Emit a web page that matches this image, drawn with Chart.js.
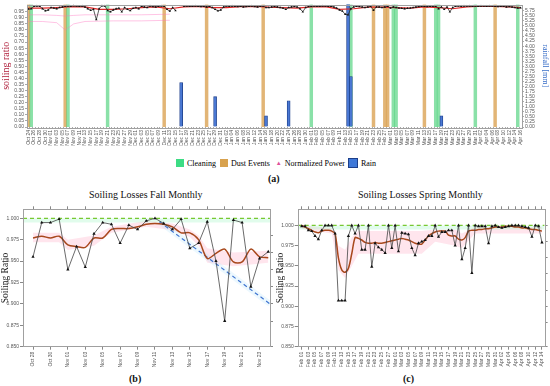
<!DOCTYPE html>
<html>
<head>
<meta charset="utf-8">
<script src="https://cdn.jsdelivr.net/npm/chart.js@4.4.1/dist/chart.umd.min.js"></script>
<style>
  body { margin: 0; background: #fff; width: 550px; height: 386px; overflow: hidden; position: relative; font-family: "Liberation Serif", serif; }
  canvas { position: absolute; }
  .t { position: absolute; white-space: nowrap; color: #111; }
  .leg { position: absolute; left: 176px; top: 158px; display: flex; align-items: center; font-size: 8px; }
  .sq { display: inline-block; width: 8px; height: 8px; margin-right: 3px; }
</style>
</head>
<body>
<canvas id="ca" style="left:0;top:0;width:550px;height:150px" width="550" height="150"></canvas>
<div class="leg">
  <span class="sq" style="background:#3ddc84"></span><span style="margin-right:4px">Cleaning</span>
  <span class="sq" style="background:#d8a24e"></span><span style="margin-right:6px">Dust Events</span>
  <span style="color:#e0509a;font-size:6px;margin-right:3px">▲</span><span style="margin-right:3px">Normalized Power</span>
  <span class="sq" style="background:#3f78d8;border:1px solid #1d3f8a;width:8px;height:8px"></span><span>Rain</span>
</div>
<div class="t" style="left:268px;top:173px;font-size:10px;font-weight:bold">(a)</div>
<div class="t" style="left:89px;top:189px;font-size:10px">Soiling Losses Fall Monthly</div>
<div class="t" style="left:358px;top:189px;font-size:10px">Soiling Losses Spring Monthly</div>
<canvas id="cb" style="left:0;top:203px;width:275px;height:167px" width="275" height="167"></canvas>
<canvas id="cc" style="left:275px;top:203px;width:275px;height:167px" width="275" height="167"></canvas>
<div class="t" style="left:129px;top:373px;font-size:10px;font-weight:bold">(b)</div>
<div class="t" style="left:403px;top:373px;font-size:10px;font-weight:bold">(c)</div>

<script>
// ---------- panel (a): whole season, one value per day from Oct 24 ----------
const months = ['Jan','Feb','Mar','Apr','May','Jun','Jul','Aug','Sep','Oct','Nov','Dec'];
const seasonStart = Date.UTC(2020, 9, 24);
const seasonDays = 175;

const soilDaily = [
  0.972,0.975,0.995,0.998,0.996,0.975,0.958,0.965,0.985,0.980,
  0.975,0.985,0.990,0.995,0.998,0.996,1.000,0.997,0.995,0.998,
  0.990,0.975,0.962,0.970,0.885,0.975,1.000,0.998,0.960,0.950,
  0.965,0.975,0.980,0.950,0.985,0.970,0.960,0.978,0.985,0.975,
  0.995,0.990,0.985,0.998,0.993,0.990,0.995,0.998,0.995,0.970,
  0.955,0.985,0.960,null,null,0.995,0.997,0.995,0.996,0.998,
  0.995,0.993,0.996,0.990,0.995,0.985,0.970,0.958,0.965,0.990,
  0.997,0.995,0.998,0.996,0.993,0.995,0.990,0.993,0.996,0.998,
  0.994,0.990,0.995,0.997,0.985,0.985,0.990,0.993,0.990,0.985,
  0.980,0.970,0.985,0.990,0.993,0.990,0.975,0.950,0.985,0.993,
  0.996,0.997,0.995,0.996,0.998,0.997,0.995,0.996,0.990,0.980,
  0.965,0.955,0.930,0.925,0.975,0.990,0.995,0.993,0.990,0.985,
  0.990,0.995,0.962,0.990,0.990,0.985,0.990,0.995,0.980,0.990,
  0.985,0.980,0.978,0.975,0.978,0.980,0.985,0.990,0.993,0.995,
  0.995,0.993,0.996,0.995,0.995,0.975,0.990,0.970,0.990,0.950,
  0.985,0.995,0.997,0.996,0.998,0.997,0.998,0.996,0.997,0.995,
  0.998,0.997,0.996,0.998,0.997,0.995,0.993,0.996,0.995,0.990,
  0.993,0.990,0.985,0.980,0.982
];

const smoothDays = [0,5,10,15,20,25,30,35,40,45,50,55,60,65,70,75,80,85,90,95,100,105,110,115,120,125,130,135,140,145,150,155,160,165,170,174];
const smoothVals = [0.980,0.980,0.985,0.992,0.990,0.970,0.970,0.975,0.985,0.990,0.975,0.990,0.994,0.985,0.985,0.993,0.994,0.988,0.985,0.980,0.990,0.993,0.970,0.975,0.988,0.988,0.985,0.980,0.990,0.985,0.975,0.990,0.996,0.995,0.990,0.985];

const normDays = [0,5,10,13,16,20,30,40,50];
const normUpper = [0.925,0.925,0.920,0.915,0.920,0.925,0.925,0.925,0.930];
const normLower = [0.870,0.870,0.860,0.800,0.850,0.870,0.875,0.875,0.880];

const cleaningDays = [1,14,28,100,114,129,130,144,145,158,173];
const dustDays = [0,13,48,63,83,122,126,127,140,165];
const rainDays = [54,66,84,92,113,114,146];
const rainMm = [2.2,1.5,0.55,1.3,6.2,2.5,0.55];

// ---------- panel (b): fall month ----------
const fallLabels = ['Oct 28','Oct 30','Nov 01','Nov 03','Nov 05','Nov 07','Nov 09','Nov 11','Nov 13','Nov 15','Nov 17','Nov 19','Nov 21','Nov 23'];
const fallRatio = [0.955,0.995,0.995,0.999,0.940,0.967,0.943,0.982,0.995,0.993,0.971,0.992,0.987,0.997,
                   1.000,0.994,0.987,0.999,0.965,0.971,0.996,0.950,0.880,0.998,0.995,0.920,0.953,0.961];
const fallSmooth = [0.977,0.979,0.977,0.979,0.969,0.967,0.966,0.977,0.977,0.987,0.988,0.988,0.990,0.993,
                    0.994,0.993,0.990,0.983,0.983,0.975,0.953,0.959,0.964,0.949,0.949,0.964,0.955,0.954];
const fallBandX = [0,3,4,7,9,13,16,18,19,20,23,27];
const fallBandHi = [0.983,0.983,0.975,0.980,0.990,0.997,0.994,0.987,0.980,0.965,0.960,0.962];
const fallBandLo = [0.972,0.972,0.963,0.968,0.983,0.990,0.986,0.978,0.968,0.948,0.944,0.948];
const fallTrendX = [14.5,27.2];
const fallTrendY = [0.996,0.900];

// ---------- panel (c): spring month ----------
const springLabels = ['Feb 01','Feb 03','Feb 05','Feb 07','Feb 09','Feb 11','Feb 13','Feb 15','Feb 17','Feb 19','Feb 21','Feb 23','Feb 25','Feb 27',
  'Mar 01','Mar 03','Mar 05','Mar 07','Mar 09','Mar 11','Mar 13','Mar 15','Mar 17','Mar 19','Mar 21','Mar 23','Mar 25','Mar 27','Mar 29','Mar 31',
  'Apr 02','Apr 04','Apr 06','Apr 08','Apr 10','Apr 12','Apr 14'];
const springRatio = [
  0.999,0.999,0.994,0.993,0.987,0.983,0.994,1.000,1.000,1.000,
  0.990,0.907,0.907,0.907,0.987,1.000,0.990,1.000,0.970,0.970,
  1.000,0.949,0.978,0.973,0.970,0.966,1.000,0.972,1.000,0.968,
  0.991,0.990,0.989,0.972,0.963,0.978,0.980,0.982,0.987,0.987,
  1.000,0.986,0.992,0.992,0.994,0.994,0.975,1.000,0.958,0.972,
  1.000,0.941,1.000,0.999,0.999,0.999,0.978,0.999,1.000,0.998,
  0.997,0.998,0.999,1.000,1.000,1.000,0.999,0.998,0.997,0.986,
  1.000,0.999,0.979
];
const springSmooth = [
  1.000,0.998,0.996,0.994,0.992,0.991,0.993,0.994,0.994,0.993,
  0.990,0.960,0.945,0.942,0.947,0.965,0.985,0.984,0.982,0.979,
  0.978,0.978,0.979,0.978,0.978,0.979,0.980,0.981,0.982,0.983,
  0.984,0.983,0.982,0.980,0.978,0.977,0.977,0.982,0.987,0.990,
  0.992,0.993,0.993,0.993,0.988,0.987,0.987,0.983,0.982,0.985,
  0.993,0.994,0.994,0.995,0.995,0.996,0.996,0.997,0.998,0.998,
  0.998,0.999,0.999,0.999,0.998,0.998,0.997,0.997,0.996,0.995,
  0.995,0.994,0.993
];
const springBandX = [0,9,11,13,15,17,30,36,40,46,48,52,72];
const springBandHi = [1.000,0.997,0.975,0.970,0.985,0.993,0.993,0.993,0.995,0.995,0.990,0.998,0.998];
const springBandLo = [0.996,0.990,0.945,0.935,0.950,0.965,0.965,0.965,0.980,0.975,0.972,0.990,0.990];

// ---------- helpers ----------
function dayLabel(d) {
  const dt = new Date(seasonStart + d * 86400000);
  return months[dt.getUTCMonth()] + ' ' + String(dt.getUTCDate()).padStart(2, '0');
}
function fix(size) {
  return function (s) { if (s.isHorizontal()) s.height = size; else s.width = size; };
}
function pts(xs, ys) { return ys.map((y, i) => ({ x: xs ? xs[i] : i, y: y })); }
function sparse(days, vals) {
  const out = new Array(seasonDays).fill(null);
  days.forEach((d, i) => { out[d] = vals[i]; });
  return out;
}
const frame = {
  id: 'frame',
  afterDatasetsDraw(chart) {
    const a = chart.chartArea, c = chart.ctx;
    c.save();
    c.strokeStyle = '#a0a0a0';
    c.lineWidth = 1;
    c.strokeRect(Math.round(a.left) + 0.5, Math.round(a.top) + 0.5, Math.round(a.right - a.left), Math.round(a.bottom - a.top));
    c.restore();
  }
};
const tickFont = { family: 'Liberation Sans', size: 5 };
const tickColor = '#555';

// ---------- chart (a) ----------
const dayLabels = [];
for (let d = 0; d < seasonDays; d++) dayLabels.push(dayLabel(d));
const ones = days => sparse(days, days.map(() => 1));

new Chart(document.getElementById('ca'), {
  type: 'line',
  data: {
    labels: dayLabels,
    datasets: [
      { label: 'soiling ratio', data: soilDaily, borderColor: '#333', borderWidth: 0.8, pointStyle: 'triangle',
        pointRadius: 1.4, pointBackgroundColor: '#111', pointBorderWidth: 0, spanGaps: false, yAxisID: 'y', order: 1 },
      { label: 'smoothed', data: sparse(smoothDays, smoothVals), borderColor: '#e02828', borderWidth: 1.2,
        pointRadius: 0, spanGaps: true, yAxisID: 'y', order: 2 },
      { label: 'Normalized Power', data: sparse(normDays, normUpper), borderColor: 'rgba(255,110,190,0.5)', borderWidth: 0.8,
        pointRadius: 0, spanGaps: true, yAxisID: 'y', order: 3 },
      { label: 'Normalized Power 2', data: sparse(normDays, normLower), borderColor: 'rgba(255,110,190,0.5)', borderWidth: 0.8,
        pointRadius: 0, spanGaps: true, yAxisID: 'y', order: 3 },
      { type: 'bar', label: 'Rain', data: sparse(rainDays, rainMm), backgroundColor: '#4a78d4', borderColor: '#1d3f8a',
        borderWidth: 0.8, barThickness: 3, grouped: false, yAxisID: 'yr', order: 4 },
      { type: 'bar', label: 'Cleaning', data: ones(cleaningDays), backgroundColor: 'rgba(60,205,110,0.6)',
        barPercentage: 1, categoryPercentage: 1, grouped: false, yAxisID: 'yb', order: 5 },
      { type: 'bar', label: 'Dust Events', data: ones(dustDays), backgroundColor: 'rgba(214,150,60,0.7)',
        barPercentage: 1, categoryPercentage: 1, grouped: false, yAxisID: 'yb', order: 6 }
    ]
  },
  options: {
    responsive: false, animation: false, devicePixelRatio: 1,
    layout: { padding: { top: 4.5 } },
    plugins: { legend: { display: false }, tooltip: { enabled: false } },
    scales: {
      x: {
        type: 'category', offset: true, afterFit: fix(23),
        grid: { drawOnChartArea: false, tickLength: 2, color: '#aaa' }, border: { display: false },
        ticks: { autoSkip: false, maxRotation: 90, minRotation: 90, font: tickFont, color: tickColor, padding: 1,
          callback: function (v, i) { return i % 2 === 0 ? this.getLabelForValue(v) : ''; } }
      },
      y: {
        min: 0, max: 1.01, afterFit: fix(27),
        afterBuildTicks: s => { s.ticks = s.ticks.filter(t => t.value <= 1.0001); },
        grid: { drawOnChartArea: false, tickLength: 2, color: '#aaa' }, border: { display: false },
        ticks: { stepSize: 0.05, autoSkip: false, font: tickFont, color: tickColor, padding: 1, callback: v => v.toFixed(2) },
        title: { display: true, text: 'soiling ratio', color: '#b0203c', font: { family: 'Liberation Serif', size: 10 }, padding: 0 }
      },
      yr: {
        position: 'right', min: 0, max: 6.06, afterFit: fix(28),
        afterBuildTicks: s => { s.ticks = s.ticks.filter(t => t.value <= 6.0001); },
        grid: { drawOnChartArea: false, tickLength: 2, color: '#aaa' }, border: { display: false },
        ticks: { stepSize: 0.25, autoSkip: false, font: tickFont, color: tickColor, padding: 1, callback: v => v.toFixed(2) },
        title: { display: true, text: 'rainfall [mm]', color: '#3a6fc8', font: { family: 'Liberation Serif', size: 8 }, padding: 0 }
      },
      yb: { display: false, min: 0, max: 1 }
    }
  },
  plugins: [frame]
});

// ---------- charts (b) and (c) ----------
function monthChart(id, labels, ratio, smooth, bandX, bandHi, bandLo, xmin, xmax, ymax, extra) {
  const tickSet = s => { s.ticks = labels.map((_, k) => ({ value: 2 * k })); };
  const yTicks = s => { s.ticks = s.ticks.filter(t => t.value <= 1.0001); };
  const datasets = [
    { data: pts(null, ratio), borderColor: '#444', borderWidth: 0.8, pointStyle: 'triangle', pointRadius: 1.9,
      pointBackgroundColor: '#111', pointBorderWidth: 0, order: 1 },
    { data: pts(null, smooth), borderColor: '#a8481c', borderWidth: 1.5, pointRadius: 0, tension: 0.3, order: 2 }
  ].concat(extra).concat([
    { data: [{ x: xmin, y: 1 }, { x: xmax, y: 1 }], borderColor: '#78c832', borderWidth: 1.2, borderDash: [4, 3], pointRadius: 0, order: 6 },
    { data: [{ x: xmin, y: 0.995 }, { x: xmax, y: 0.995 }], borderWidth: 0, pointRadius: 0,
      fill: { target: { value: 1 } }, backgroundColor: 'rgba(170,245,200,0.35)', order: 7 },
    { data: pts(bandX, bandHi), borderWidth: 0, pointRadius: 0, order: 8 },
    { data: pts(bandX, bandLo), borderWidth: 0, pointRadius: 0, fill: '-1', backgroundColor: 'rgba(255,175,200,0.32)', order: 9 }
  ]);
  new Chart(document.getElementById(id), {
    type: 'line',
    data: { datasets: datasets },
    options: {
      responsive: false, animation: false, devicePixelRatio: 1,
      plugins: { legend: { display: false }, tooltip: { enabled: false } },
      scales: {
        x: {
          type: 'linear', min: xmin, max: xmax, afterBuildTicks: tickSet, afterFit: fix(23.3),
          grid: { drawOnChartArea: false, tickLength: 3, color: '#888' }, border: { display: false },
          ticks: { autoSkip: false, maxRotation: 90, minRotation: 90, font: tickFont, color: tickColor, padding: 2,
            callback: v => labels[v / 2] }
        },
        x2: {
          type: 'linear', position: 'top', min: xmin, max: xmax, afterBuildTicks: tickSet, afterFit: fix(6.3),
          grid: { drawOnChartArea: false, tickLength: 3, color: '#888' }, border: { display: false },
          ticks: { display: false }
        },
        y: {
          min: 0.85, max: ymax, afterBuildTicks: yTicks, afterFit: fix(id === 'cb' ? 23 : 22.7),
          grid: { drawOnChartArea: false, tickLength: 3, color: '#888' }, border: { display: false },
          ticks: { stepSize: 0.025, autoSkip: false, font: tickFont, color: tickColor, padding: 1, callback: v => v.toFixed(3) },
          title: { display: true, text: 'Soiling Ratio', color: '#222', font: { family: 'Liberation Serif', size: 9.5 }, padding: 0 }
        },
        y2: {
          position: 'right', min: 0.85, max: ymax, afterBuildTicks: yTicks, afterFit: fix(id === 'cb' ? 5 : 4),
          grid: { drawOnChartArea: false, tickLength: 3, color: '#888' }, border: { display: false },
          ticks: { display: false }
        }
      }
    },
    plugins: [frame]
  });
}

monthChart('cb', fallLabels, fallRatio, fallSmooth, fallBandX, fallBandHi, fallBandLo, -1.15, 27.2, 1.0105, [
  { data: pts(fallTrendX, fallTrendY), borderColor: '#3f74d0', borderWidth: 1.2, borderDash: [4, 3], pointRadius: 0, order: 3 },
  { data: pts(fallTrendX, fallTrendY), borderColor: 'rgba(170,225,250,0.22)', borderWidth: 6, pointRadius: 0, order: 4 }
]);
monthChart('cc', springLabels, springRatio, springSmooth, springBandX, springBandHi, springBandLo, -1.2, 72.8, 1.02, []);
</script>
</body>
</html>
